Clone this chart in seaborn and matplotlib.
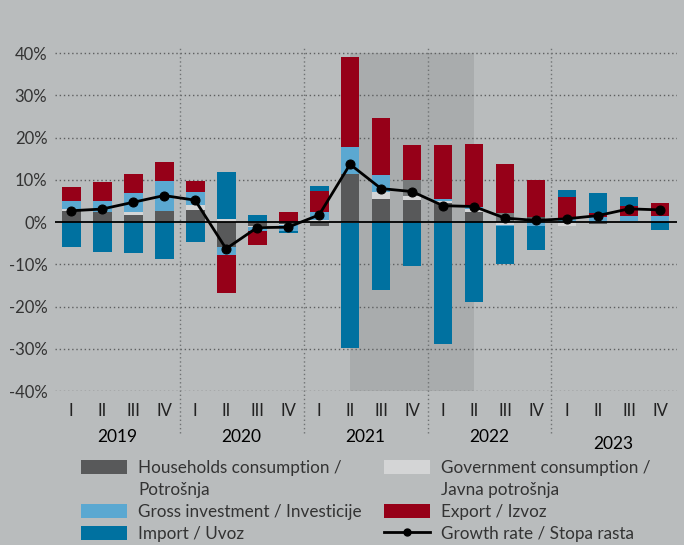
import numpy as np
import pandas as pd
import matplotlib
matplotlib.use("Agg")
import matplotlib.pyplot as plt
import matplotlib.transforms as mtransforms
from matplotlib.patches import Patch, Rectangle
from matplotlib.lines import Line2D
import seaborn as sns

# ---- data (contributions to growth, %) ----
quarters = ["I", "II", "III", "IV"] * 5
years = ["2019", "2020", "2021", "2022", "2023"]

households = [2.75, 2.5, 1.8, 2.75, 2.9, -5.8, -0.8, -0.35, -1.0, 11.4,
              5.5, 5.3, 4.65, 2.3, 0.0, 1.1, 0.0, -0.35, 0.0, 0.0]
government = [0.4, 0.0, 0.65, 0.0, 1.2, 0.8, -0.4, -0.4, 0.4, -0.3,
              1.7, 0.9, 0.45, 0.85, -0.6, 0.0, -1.0, 0.0, 0.25, 0.0]
investment = [1.75, 2.55, 4.35, 7.05, 3.1, -2.1, -0.8, -1.45, 2.1, 6.4,
              4.0, 0.0, 0.35, 0.55, -0.4, -1.0, 0.8, 1.1, 1.3, 1.35]
other = [0.0, 0.0, 0.0, 0.0, 0.0, 0.0, 0.0, 0.0, 0.0, 0.0,
         0.0, 3.8, 0.0, 0.0, 2.1, 0.0, 0.0, 0.0, 0.0, 0.0]
export = [3.45, 4.35, 4.5, 4.5, 2.6, -8.8, -3.3, 2.3, 4.9, 21.4,
          13.5, 8.3, 12.85, 14.8, 11.7, 8.9, 5.25, 1.0, 2.35, 3.3]
imports = [-5.8, -7.0, -7.4, -8.7, -4.8, 11.1, 1.7, -0.45, 1.25, -29.6,
           -16.0, -10.5, -28.8, -19.0, -9.0, -5.55, 1.6, 4.9, 2.15, -1.8]
growth = [2.7, 3.1, 4.7, 6.3, 5.2, -6.3, -1.3, -1.2, 1.7, 13.7,
          7.95, 7.25, 3.9, 3.7, 0.95, 0.4, 0.8, 1.55, 3.15, 2.9]

colors = ["#58595a", "#d4d5d6", "#5ba8d1", "#76797a", "#960018", "#0071a0"]

shade_from, shade_to = 9, 13

bg = "#b9bcbd"
plt.rcParams["font.family"] = ["Lato", "DejaVu Sans"]

fig = plt.figure(figsize=(6.84, 5.45), dpi=100, facecolor=bg)
ax = fig.add_axes([55 / 684, 1 - 391 / 545, (677 - 55) / 684, (391 - 48) / 545])
ax.set_facecolor(bg)

n = len(quarters)
x = np.arange(n)
vals = np.array([households, government, investment, other, export, imports])
pos_cum = np.cumsum(np.clip(vals, 0, None), axis=0)
neg_cum = np.cumsum(np.clip(vals, None, 0), axis=0)

# outer layers first, inner layers drawn over them
for k in range(len(vals) - 1, -1, -1):
    for cum in (pos_cum, neg_cum):
        df = pd.DataFrame({"q": x, "v": cum[k]})
        sns.barplot(data=df, x="q", y="v", color=colors[k], width=0.61,
                    errorbar=None, saturation=1, linewidth=0, ax=ax, zorder=2)

sns.lineplot(x=x, y=growth, color="black", lw=2, marker="o", markersize=6.5,
             markeredgecolor="black", ax=ax, zorder=5)

ax.add_patch(Rectangle((shade_from, -40), shade_to - shade_from, 80,
                       facecolor="#a9acad", edgecolor="none", zorder=0))

yt = np.arange(-40, 41, 10)
for v in yt:
    if v != 0:
        ax.axhline(v, color="#5e6061", lw=1, ls=(0, (1, 2)), zorder=1)
ax.axhline(0, color="black", lw=1.3, zorder=4)
for sep in [3.5, 7.5, 11.5, 15.5]:
    ax.axvline(sep, ymin=-0.123, ymax=1, color="#6f7273", lw=1, ls=(0, (1, 2)),
               zorder=1, clip_on=False)

ax.set_xlim(-0.52, 19.55)
ax.set_ylim(-40, 41.25)
ax.set_yticks(yt)
ax.set_yticklabels([f"{v}%" for v in yt], fontsize=12, color="#333333")
ax.set_xticks(x)
ax.set_xticklabels(quarters, fontsize=12, color="#222222")
ax.tick_params(length=0, axis="y", pad=5.5)
ax.tick_params(length=0, axis="x", pad=9)
ax.set_xlabel("")
ax.set_ylabel("")
for s in ax.spines.values():
    s.set_visible(False)

tr = mtransforms.blended_transform_factory(ax.transData, ax.transAxes)
for i, yr in enumerate(years):
    yy = -0.155 if yr == "2023" else -0.134
    ax.text(4 * i + 1.5, yy, yr, transform=tr, ha="center", va="center",
            fontsize=12.5, color="black")

# legend, two columns; second text lines get an empty handle
def handle(k):
    return Patch(facecolor=colors[k], edgecolor="none")

blank = Patch(facecolor="none", edgecolor="none")
growth_handle = Line2D([], [], color="black", lw=2, marker="o", markersize=5)
leg_kw = dict(frameon=False, fontsize=12.3, labelcolor="#333333", handlelength=2.7,
              handleheight=0.9, handletextpad=0.65, labelspacing=0.36,
              borderpad=0, borderaxespad=0, loc="upper left")
leg1 = fig.legend([handle(0), blank, handle(2), handle(5)],
                  ["Households consumption /", "Potrošnja",
                   "Gross investment / Investicije", "Import / Uvoz"],
                  bbox_to_anchor=(81 / 684, 1 - 459.5 / 545), **leg_kw)
leg2 = fig.legend([handle(1), blank, handle(4), growth_handle],
                  ["Government consumption /", "Javna potrošnja",
                   "Export / Izvoz", "Growth rate / Stopa rasta"],
                  bbox_to_anchor=(384 / 684, 1 - 459.5 / 545), **leg_kw)

fig.savefig("out.png", dpi=100, facecolor=bg)
